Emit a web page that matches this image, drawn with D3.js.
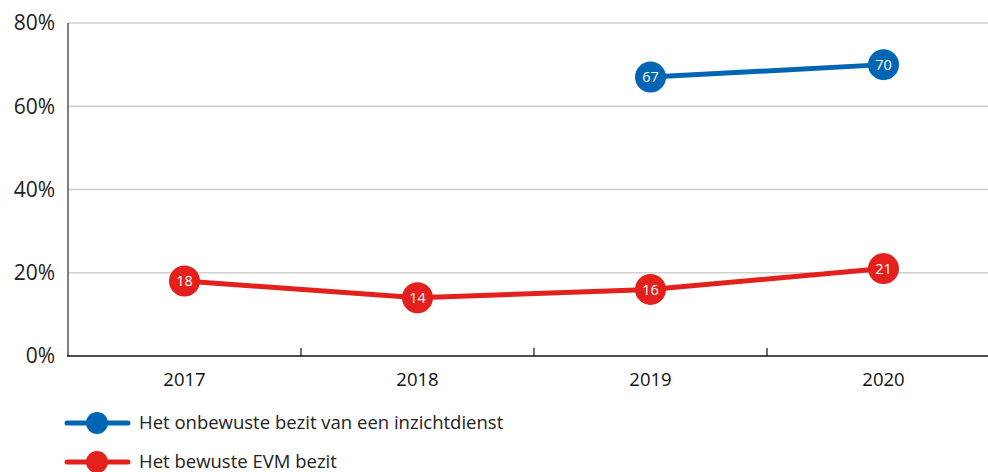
<!DOCTYPE html>
<html>
<head>
<meta charset="utf-8">
<script src="https://cdn.jsdelivr.net/npm/d3@7"></script>
<style>
body{margin:0;background:#fff;}
svg{display:block;font-family:"Open Sans",sans-serif;}
</style>
</head>
<body>
<div id="chart"></div>
<script>
const years = ["2017","2018","2019","2020"];
const onbewust = [null,null,67,70];
const bewust = [18,14,16,21];
const yTicks = [0,20,40,60,80];
const seriesNames = ["Het onbewuste bezit van een inzichtdienst","Het bewuste EVM bezit"];
const blue = "#0066b3", red = "#e3201b";

const w = 988, h = 472;
const svg = d3.select("#chart").append("svg").attr("width", w).attr("height", h);

const x = d3.scaleBand().domain(years).range([68, 1000]);
const y = d3.scaleLinear().domain([0, 80]).range([356, 23]);

// gridlines
svg.append("g").selectAll("line").data(yTicks.filter(d => d > 0)).join("line")
  .attr("x1", 68).attr("x2", w)
  .attr("y1", d => y(d)).attr("y2", d => y(d))
  .attr("stroke", "#cfcfcf").attr("stroke-width", 1.5);

// y labels
svg.append("g").selectAll("text").data(yTicks).join("text")
  .attr("x", 55).attr("y", d => y(d)).attr("dy", "0.35em")
  .attr("text-anchor", "end").attr("font-size", 21).attr("fill", "#222")
  .text(d => d + "%");

// y axis line
svg.append("line").attr("x1", 68).attr("x2", 68).attr("y1", y(80)).attr("y2", y(0))
  .attr("stroke", "#555").attr("stroke-width", 1.5);

// x axis
svg.append("line").attr("x1", 67).attr("x2", w).attr("y1", y(0)).attr("y2", y(0))
  .attr("stroke", "#111").attr("stroke-width", 1.5);
svg.append("g").selectAll("line").data(years.slice(1)).join("line")
  .attr("x1", d => x(d)).attr("x2", d => x(d))
  .attr("y1", y(0) - 8).attr("y2", y(0))
  .attr("stroke", "#111").attr("stroke-width", 1.2);
svg.append("g").selectAll("text").data(years).join("text")
  .attr("x", d => x(d) + x.bandwidth() / 2).attr("y", 386)
  .attr("text-anchor", "middle").attr("font-size", 18.5).attr("fill", "#111")
  .text(d => d);

function drawSeries(vals, color) {
  const pts = years.map((yr, i) => ({yr, v: vals[i]})).filter(d => d.v != null);
  const line = d3.line().x(d => x(d.yr) + x.bandwidth() / 2).y(d => y(d.v));
  svg.append("path").datum(pts).attr("d", line)
    .attr("fill", "none").attr("stroke", color).attr("stroke-width", 5);
  const g = svg.append("g").selectAll("g").data(pts).join("g")
    .attr("transform", d => `translate(${x(d.yr) + x.bandwidth() / 2},${y(d.v)})`);
  g.append("circle").attr("r", 15.5).attr("fill", color);
  g.append("text").attr("text-anchor", "middle").attr("dy", "0.36em")
    .attr("font-size", 14.5).attr("fill", "#fff").text(d => d.v);
}
drawSeries(onbewust, blue);
drawSeries(bewust, red);

// legend
const legend = svg.append("g").selectAll("g").data(seriesNames).join("g")
  .attr("transform", (d, i) => `translate(0,${423 + i * 39})`);
legend.append("line").attr("x1", 67).attr("x2", 128)
  .attr("stroke", (d, i) => i ? red : blue).attr("stroke-width", 5).attr("stroke-linecap", "round");
legend.append("circle").attr("cx", 97).attr("r", 11).attr("fill", (d, i) => i ? red : blue);
legend.append("text").attr("x", 139).attr("dy", "0.35em").attr("font-size", 18.5).attr("fill", "#222")
  .text(d => d);
</script>
</body>
</html>
